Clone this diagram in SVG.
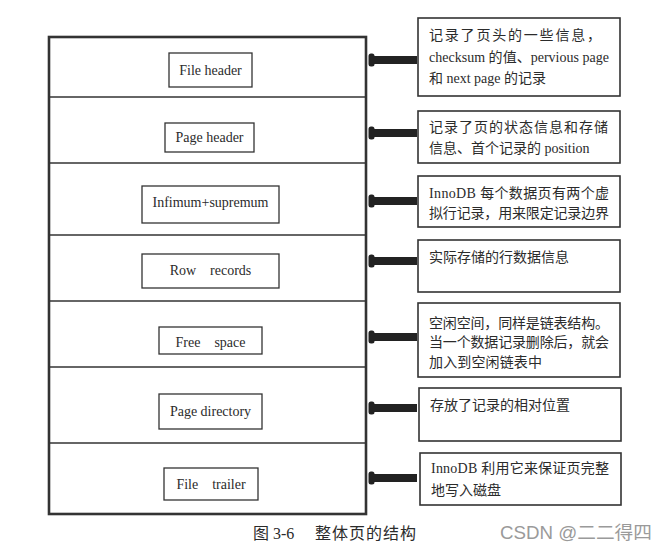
<svg xmlns="http://www.w3.org/2000/svg" width="668" height="555" viewBox="0 0 668 555">
<style>
.lbl{font-family:"Liberation Serif","Noto Sans CJK SC",serif;font-size:14px;fill:#2b2b2b;text-anchor:middle}
.desc{font-family:"Liberation Serif","Noto Sans CJK SC",serif;font-size:14px;fill:#2b2b2b}
.ib{fill:#fff;stroke:#333;stroke-width:1.3}
.rb{fill:#fff;stroke:#333;stroke-width:1.6}
.div{stroke:#333;stroke-width:1.4}
.cap{font-family:"Liberation Serif","Noto Sans CJK SC",serif;font-size:16px;fill:#2b2b2b}
.wm{font-family:"Liberation Sans","Noto Sans CJK SC",sans-serif;font-size:18px;fill:#9a9a9a}
</style>
<defs>
<g id="arr"><rect x="373" y="-4" width="44" height="8" fill="#222"/><rect x="368.5" y="-6.5" width="6" height="13" rx="2.5" fill="#222"/></g>
</defs>
<rect width="668" height="555" fill="#fff"/>
<g id="page">
<rect x="49" y="37" width="317" height="477" fill="#fff" stroke="#333" stroke-width="2.6"/>
<line class="div" x1="49" y1="97" x2="366" y2="97"/>
<line class="div" x1="49" y1="163" x2="366" y2="163"/>
<line class="div" x1="49" y1="235" x2="366" y2="235"/>
<line class="div" x1="49" y1="301" x2="366" y2="301"/>
<line class="div" x1="49" y1="367" x2="366" y2="367"/>
<line class="div" x1="49" y1="443" x2="366" y2="443"/>
</g>
<g id="file-header"><rect class="ib" x="169" y="53" width="83" height="34"/><text class="lbl" x="210.5" y="75">File header</text></g>
<g id="page-header"><rect class="ib" x="165" y="123" width="89" height="29"/><text class="lbl" x="209.5" y="142">Page header</text></g>
<g id="infimum"><rect class="ib" x="142" y="186" width="137" height="37"/><text class="lbl" x="210.5" y="207">Infimum+supremum</text></g>
<g id="row-records"><rect class="ib" x="142" y="254" width="137" height="34"/><text class="lbl" x="210.5" y="275" xml:space="preserve">Row    records</text></g>
<g id="free-space"><rect class="ib" x="159" y="327" width="103" height="27"/><text class="lbl" x="210.5" y="347" xml:space="preserve">Free    space</text></g>
<g id="page-directory"><rect class="ib" x="159" y="394" width="103" height="35"/><text class="lbl" x="210.5" y="416">Page directory</text></g>
<g id="file-trailer"><rect class="ib" x="164" y="468" width="94" height="32"/><text class="lbl" x="211" y="489" xml:space="preserve">File    trailer</text></g>

<g id="desc1"><rect class="rb" x="418" y="18" width="202" height="78"/>
<text class="desc" x="429" y="40" textLength="172" lengthAdjust="spacing">记录了页头的一些信息，</text>
<text class="desc" x="429" y="62" textLength="180" lengthAdjust="spacing">checksum 的值、pervious page</text>
<text class="desc" x="429" y="83">和 next page 的记录</text></g>
<g id="desc2"><rect class="rb" x="418" y="111" width="202" height="52"/>
<text class="desc" x="429" y="132" textLength="179" lengthAdjust="spacing">记录了页的状态信息和存储</text>
<text class="desc" x="429" y="153">信息、首个记录的 position</text></g>
<g id="desc3"><rect class="rb" x="418" y="176" width="202" height="51"/>
<text class="desc" x="429" y="198" textLength="180" lengthAdjust="spacing">InnoDB 每个数据页有两个虚</text>
<text class="desc" x="429" y="218" textLength="180" lengthAdjust="spacing">拟行记录，用来限定记录边界</text></g>
<g id="desc4"><rect class="rb" x="418" y="240" width="202" height="52"/>
<text class="desc" x="429" y="262" textLength="140" lengthAdjust="spacing">实际存储的行数据信息</text></g>
<g id="desc5"><rect class="rb" x="418" y="303" width="202" height="74"/>
<text class="desc" x="429" y="328" textLength="180" lengthAdjust="spacing">空闲空间，同样是链表结构。</text>
<text class="desc" x="429" y="347" textLength="180" lengthAdjust="spacing">当一个数据记录删除后，就会</text>
<text class="desc" x="429" y="367" textLength="113" lengthAdjust="spacing">加入到空闲链表中</text></g>
<g id="desc6"><rect class="rb" x="419" y="388" width="202" height="53"/>
<text class="desc" x="430" y="410" textLength="140" lengthAdjust="spacing">存放了记录的相对位置</text></g>
<g id="desc7"><rect class="rb" x="420" y="453" width="201" height="52"/>
<text class="desc" x="431" y="473" textLength="178" lengthAdjust="spacing">InnoDB 利用它来保证页完整</text>
<text class="desc" x="431" y="495">地写入磁盘</text></g>

<g id="connectors">
<use href="#arr" y="60"/>
<use href="#arr" y="133"/>
<use href="#arr" y="201"/>
<use href="#arr" y="261"/>
<use href="#arr" y="337"/>
<use href="#arr" y="408"/>
<use href="#arr" y="478"/>
</g>
<text class="cap" x="253" y="539" xml:space="preserve">图 3-6</text>
<text class="cap" x="315" y="539" textLength="101" lengthAdjust="spacing">整体页的结构</text>
<text class="wm" x="500" y="539" textLength="152" lengthAdjust="spacingAndGlyphs">CSDN @二二得四</text>
</svg>
